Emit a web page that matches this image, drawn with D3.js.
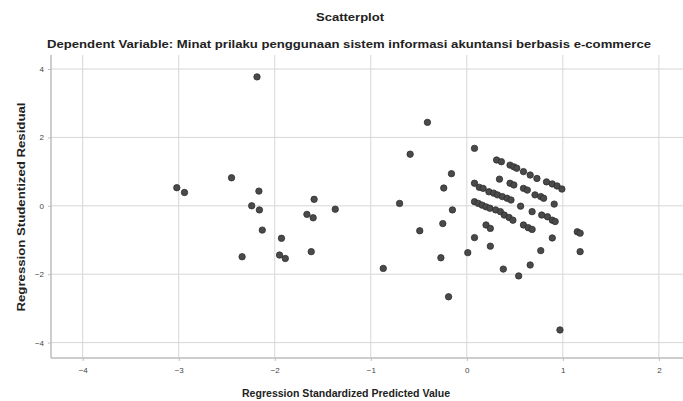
<!DOCTYPE html>
<meta charset="utf-8">
<style>
body {
  margin: 0;
  background: #fff;
  font-family: "Liberation Sans", Arial, Helvetica, sans-serif;
}
.grid line {
  stroke: #d6d6d6;
  stroke-width: 1;
}
.frame {
  stroke: #bdbdbd;
  stroke-width: 1.5;
}
.tick text {
  font-size: 8px;
  fill: #444;
}
.title {
  font-weight: bold;
  fill: #222;
}
.point {
  fill: #4a4a4a;
  stroke: #2e2e2e;
  stroke-width: 0.8;
}
</style>
<body>
<script src="https://cdn.jsdelivr.net/npm/d3@7"></script>
<script>

var width = 683,
    height = 401;

var title = "Scatterplot";
var subtitle = "Dependent Variable: Minat prilaku penggunaan sistem informasi akuntansi berbasis e-commerce";
var xLabel = "Regression Standardized Predicted Value";
var yLabel = "Regression Studentized Residual";

var xTicks = [-4, -3, -2, -1, 0, 1, 2];
var yTicks = [-4, -2, 0, 2, 4];

// [standardized predicted value, studentized residual]
var points = [
  // left group
  [-3.02, 0.53], [-2.94, 0.39], [-2.45, 0.82], [-2.185, 3.77], [-2.165, 0.43],
  [-2.24, 0.0], [-2.16, -0.12], [-2.13, -0.71], [-2.34, -1.49], [-1.93, -0.95],
  [-1.95, -1.44], [-1.89, -1.54], [-1.59, 0.19], [-1.665, -0.25], [-1.60, -0.35],
  [-1.37, -0.10], [-1.62, -1.34],
  // middle
  [-0.41, 2.44], [-0.59, 1.51], [-0.16, 0.94], [-0.24, 0.52], [-0.70, 0.07],
  [-0.15, -0.12], [-0.25, -0.52], [-0.49, -0.73], [-0.27, -1.52], [0.01, -1.37],
  [-0.87, -1.83], [-0.19, -2.66],
  // right cluster, scattered
  [0.08, 1.68], [0.97, -3.63], [0.38, -1.85], [0.54, -2.05], [0.66, -1.73],
  [0.77, -1.31], [0.89, -0.94], [1.18, -1.34], [1.15, -0.76], [1.18, -0.80],
  [0.08, -0.93], [0.245, -1.18], [0.20, -0.56], [0.245, -0.66],
  [0.59, -0.56], [0.64, -0.64], [0.68, -0.69],
  // band A
  [0.31, 1.34], [0.36, 1.29], [0.45, 1.19], [0.49, 1.14], [0.52, 1.10],
  [0.59, 1.00], [0.66, 0.90], [0.73, 0.80], [0.83, 0.70], [0.89, 0.64],
  [0.94, 0.58], [0.99, 0.49],
  // band B
  [0.34, 0.78], [0.45, 0.66], [0.49, 0.61], [0.59, 0.51], [0.63, 0.46],
  [0.71, 0.32], [0.77, 0.27], [0.80, 0.22], [0.91, 0.05],
  // band C
  [0.08, 0.66], [0.13, 0.54], [0.17, 0.51], [0.23, 0.41], [0.28, 0.37],
  [0.32, 0.32], [0.37, 0.27], [0.42, 0.22], [0.46, 0.17], [0.56, -0.01],
  [0.68, -0.17], [0.78, -0.27], [0.84, -0.32], [0.89, -0.42], [0.92, -0.46],
  // band D
  [0.08, 0.12], [0.12, 0.07], [0.16, 0.02], [0.20, -0.03], [0.24, -0.07],
  [0.30, -0.12], [0.35, -0.17], [0.39, -0.27], [0.44, -0.34], [0.48, -0.42]
];

var x = d3.scaleLinear().domain([-4.33, 2.22]).range([51, 680]);
var y = d3.scaleLinear().domain([-4.45, 4.41]).range([358, 55]);

var svg = d3.select("body").append("svg")
    .attr("width", width)
    .attr("height", height);

// grid
var grid = svg.append("g").attr("class", "grid");

grid.selectAll(".vx")
    .data(xTicks)
  .enter().append("line")
    .attr("x1", function(d) { return x(d); })
    .attr("x2", function(d) { return x(d); })
    .attr("y1", y.range()[1])
    .attr("y2", y.range()[0]);

grid.selectAll(".hy")
    .data(yTicks)
  .enter().append("line")
    .attr("x1", x.range()[0])
    .attr("x2", width)
    .attr("y1", function(d) { return y(d); })
    .attr("y2", function(d) { return y(d); });

// axes
var xAxis = svg.append("g")
    .attr("transform", "translate(0," + y.range()[0] + ")")
    .call(d3.axisBottom(x).tickValues(xTicks).tickSize(3).tickPadding(6).tickFormat(d3.format("d")));

var yAxis = svg.append("g")
    .attr("transform", "translate(" + x.range()[0] + ",0)")
    .call(d3.axisLeft(y).tickValues(yTicks).tickSize(3).tickPadding(4).tickFormat(d3.format("d")));

[xAxis, yAxis].forEach(function(a) {
  a.select(".domain").remove();
  a.selectAll(".tick line").attr("stroke", "#bdbdbd");
});

svg.append("line").attr("class", "frame")
    .attr("x1", x.range()[0]).attr("x2", width)
    .attr("y1", y.range()[0]).attr("y2", y.range()[0]);
svg.append("line").attr("class", "frame")
    .attr("x1", x.range()[0]).attr("x2", x.range()[0])
    .attr("y1", y.range()[1]).attr("y2", y.range()[0]);

// points
svg.selectAll(".point")
    .data(points)
  .enter().append("circle")
    .attr("class", "point")
    .attr("cx", function(d) { return x(d[0]); })
    .attr("cy", function(d) { return y(d[1]); })
    .attr("r", 3.2);

// titles
svg.append("text").attr("class", "title")
    .attr("x", 350).attr("y", 21)
    .attr("text-anchor", "middle")
    .style("font-size", "10px")
    .attr("textLength", 68).attr("lengthAdjust", "spacingAndGlyphs")
    .text(title);

svg.append("text").attr("class", "title")
    .attr("x", 349).attr("y", 48)
    .attr("text-anchor", "middle")
    .style("font-size", "11px")
    .attr("textLength", 604).attr("lengthAdjust", "spacingAndGlyphs")
    .text(subtitle);

svg.append("text").attr("class", "title")
    .attr("x", 346).attr("y", 397)
    .attr("text-anchor", "middle")
    .style("font-size", "11px")
    .attr("textLength", 208).attr("lengthAdjust", "spacingAndGlyphs")
    .text(xLabel);

svg.append("text").attr("class", "title")
    .attr("transform", "translate(25,207) rotate(-90)")
    .attr("text-anchor", "middle")
    .style("font-size", "11.5px")
    .attr("textLength", 209).attr("lengthAdjust", "spacingAndGlyphs")
    .text(yLabel);

</script>
